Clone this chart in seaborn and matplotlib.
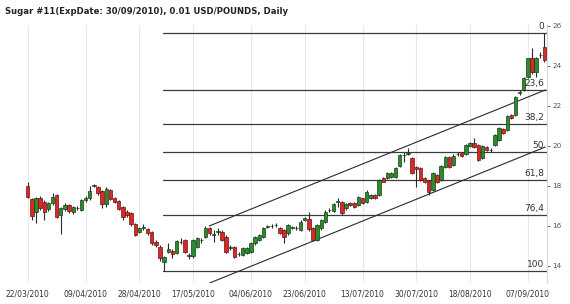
import numpy as np
import pandas as pd
import matplotlib
matplotlib.use("Agg")
import matplotlib.pyplot as plt
import seaborn as sns

# ---------------- data ----------------
title = "Sugar #11(ExpDate: 30/09/2010), 0.01 USD/POUNDS, Daily"
start_date = "2010-03-22"

opens = [18.00, 17.33, 16.72, 17.38, 17.22, 16.83, 17.13, 17.55, 16.55, 16.83,
         17.05, 16.70, 16.92, 16.80, 17.30, 17.38, 18.00, 17.95, 17.77, 17.10,
         17.80, 17.40, 17.25, 16.97, 16.72, 16.65, 16.10, 15.70, 15.90, 15.83,
         15.72, 15.22, 14.97, 14.22, 14.72, 14.77, 14.63, 15.18, 15.30, 14.55,
         14.52, 14.97, 15.28, 15.47, 15.88, 15.55, 15.70, 15.72, 15.47, 14.90,
         14.93, 14.58, 14.55, 14.63, 14.72, 15.13, 15.30, 15.47, 15.95, 15.98,
         16.03, 15.88, 15.80, 15.63, 15.92, 15.88, 15.80, 16.30, 16.35, 15.88,
         15.30, 15.88, 16.22, 16.78, 16.77, 17.20, 17.22, 16.88, 17.17, 17.13,
         17.05, 17.38, 17.22, 17.38, 17.55, 17.55, 18.38, 18.38, 18.47, 18.47,
         19.00, 19.53, 19.62, 19.38, 18.97, 18.88, 18.38, 18.25, 17.80, 18.55,
         18.30, 18.97, 19.43, 19.05, 19.58, 19.63, 19.60, 20.00, 20.13, 20.05,
         19.38, 19.97, 19.78, 20.05, 20.30, 20.83, 20.80, 21.55, 21.55, 22.65,
         22.80, 23.47, 24.38, 23.72, 24.53, 24.97]
highs = [18.22, 17.40, 17.45, 17.50, 17.30, 17.20, 17.67, 17.60, 16.95, 17.15,
         17.10, 17.00, 17.00, 17.35, 17.50, 18.00, 18.12, 18.00, 17.80, 17.95,
         17.85, 17.45, 17.30, 17.00, 16.80, 16.70, 16.15, 15.95, 16.08, 15.88,
         15.75, 15.28, 15.05, 14.50, 15.13, 14.85, 15.30, 15.40, 15.35, 14.65,
         15.35, 15.45, 15.40, 16.00, 15.93, 15.80, 15.90, 15.78, 15.55, 15.05,
         15.00, 14.70, 14.95, 14.95, 15.20, 15.52, 15.60, 15.95, 16.05, 16.08,
         16.17, 15.95, 15.85, 16.10, 16.00, 15.98, 16.28, 16.45, 16.72, 15.95,
         16.10, 16.35, 16.78, 16.90, 17.15, 17.38, 17.27, 17.15, 17.22, 17.18,
         17.48, 17.42, 17.78, 17.60, 17.60, 18.35, 18.47, 18.68, 18.72, 18.93,
         19.60, 19.72, 19.88, 19.45, 19.02, 18.93, 18.43, 18.30, 18.68, 18.60,
         19.05, 19.48, 19.50, 19.58, 19.70, 19.68, 20.10, 20.18, 20.38, 20.10,
         20.05, 20.02, 19.90, 20.60, 20.93, 20.88, 21.55, 21.60, 22.52, 22.80,
         23.45, 24.42, 24.88, 24.45, 24.70, 25.63]
lows = [17.40, 16.30, 16.13, 16.80, 16.30, 16.75, 17.05, 16.40, 15.60, 16.75,
        16.65, 16.62, 16.80, 16.75, 17.20, 17.30, 17.95, 17.55, 16.90, 16.95,
        17.30, 17.15, 16.80, 16.30, 16.45, 16.00, 15.50, 15.65, 15.80, 15.55,
        15.05, 14.95, 14.25, 13.73, 14.65, 14.38, 14.58, 15.10, 14.65, 14.35,
        14.40, 14.90, 15.15, 15.40, 15.55, 15.20, 15.55, 15.25, 14.65, 14.80,
        14.38, 14.50, 14.48, 14.58, 14.65, 15.05, 15.25, 15.40, 15.90, 15.90,
        15.95, 15.58, 15.13, 15.55, 15.85, 15.82, 15.75, 16.25, 15.75, 15.25,
        15.25, 15.80, 16.15, 16.70, 16.70, 16.97, 16.55, 16.80, 17.00, 16.92,
        17.00, 17.12, 17.15, 17.33, 17.33, 17.50, 18.18, 18.33, 18.42, 18.42,
        18.95, 19.22, 19.55, 18.58, 17.97, 18.25, 18.17, 17.55, 17.75, 18.17,
        18.25, 18.92, 18.92, 19.00, 19.50, 19.45, 19.55, 19.95, 19.88, 19.25,
        19.33, 19.75, 19.70, 20.00, 20.25, 20.58, 20.75, 21.33, 21.50, 22.55,
        22.75, 23.40, 23.60, 23.47, 24.40, 24.20]
closes = [17.47, 16.50, 17.38, 16.88, 16.72, 17.13, 17.43, 16.47, 16.88, 17.05,
          16.75, 16.95, 16.88, 17.30, 17.40, 17.77, 18.04, 17.65, 17.10, 17.85,
          17.35, 17.20, 16.85, 16.47, 16.55, 16.10, 15.55, 15.88, 15.92, 15.63,
          15.15, 15.05, 14.38, 14.45, 14.83, 14.60, 15.25, 15.22, 14.72, 14.50,
          15.30, 15.38, 15.32, 15.88, 15.63, 15.57, 15.73, 15.30, 14.72, 14.95,
          14.43, 14.62, 14.88, 14.88, 15.13, 15.47, 15.55, 15.88, 15.98, 16.00,
          16.05, 15.63, 15.47, 16.05, 15.95, 15.90, 16.22, 16.38, 15.83, 15.30,
          16.05, 16.30, 16.72, 16.80, 17.10, 17.23, 16.63, 17.10, 17.05, 16.97,
          17.43, 17.17, 17.72, 17.55, 17.38, 18.30, 18.22, 18.63, 18.67, 18.88,
          19.55, 19.57, 19.65, 18.63, 18.83, 18.30, 18.22, 17.72, 18.63, 18.22,
          19.00, 19.43, 18.97, 19.50, 19.60, 19.50, 20.05, 20.13, 19.93, 19.30,
          20.00, 19.80, 19.82, 20.55, 20.88, 20.63, 21.50, 21.38, 22.47, 22.70,
          23.38, 24.38, 23.72, 24.38, 24.57, 24.30]

tick_dates = ["22/03/2010", "09/04/2010", "28/04/2010", "17/05/2010", "04/06/2010",
              "23/06/2010", "13/07/2010", "30/07/2010", "18/08/2010", "07/09/2010"]
fib_levels = [0, 23.6, 38.2, 50, 61.8, 76.4, 100]
channel_start = 43.9
channel_end = 125.2
channel_upper = [16.0, 22.8]
channel_lower = [13.14, 19.95]
y_ticks = [14, 16, 18, 20, 22, 24, 26]

# ---------------- figure ----------------
sns.set_theme(style="white")
plt.rcParams["font.family"] = ["DejaVu Sans"]

fig = plt.figure(figsize=(5.70, 3.04), dpi=100)
ax = fig.add_axes([5 / 570, 21 / 304, 541.5 / 570, 258 / 304])

o = np.array(opens); h = np.array(highs); l = np.array(lows); c = np.array(closes)
n = len(o)
dates = pd.bdate_range(start_date, periods=n)
x = np.arange(n)
df = pd.DataFrame({"x": x, "open": o, "high": h, "low": l, "close": c})

up = c >= o
body_col = np.where(up, "#2d8a2d", "#d62a2a")
edge_col = np.where(up, "#163f16", "#6e1010")

# vertical grid at labelled dates
tick_pos = [dates.get_loc(pd.to_datetime(d, format="%d/%m/%Y")) for d in tick_dates]
for tp in tick_pos:
    ax.axvline(tp, color="#e8e8e8", lw=0.8, zorder=0)

# fib levels
hi = h.max(); lo = l.min(); lo_idx = int(np.argmin(l))
xmax = n - 0.5
for lev in fib_levels:
    val = hi - (hi - lo) * lev / 100.0
    ax.plot([lo_idx - 0.3, xmax], [val, val], color="#3c3c3c", lw=0.9, zorder=1)
    lab = (f"{lev:g}").replace(".", ",")
    ax.text(xmax - 0.6, val + 0.1, lab, ha="right", va="bottom",
            fontsize=6.5, color="#333333", zorder=5)

# channel lines
ax.plot([channel_start, channel_end], channel_upper, color="#2a2a2a", lw=0.8, zorder=2)
ax.plot([channel_start, channel_end], channel_lower, color="#2a2a2a", lw=0.8, zorder=2)

# candles
ax.vlines(df["x"], df["low"], df["high"], color="#2a2a2a", lw=0.8, zorder=3)
heights = np.maximum(np.abs(c - o), 0.03)
ax.bar(x, heights, bottom=np.minimum(o, c), width=0.82, color=body_col,
       edgecolor=edge_col, linewidth=0.5, zorder=4)

ax.set_xlim(-5.5, xmax)
ax.set_ylim(13.15, 26.05)
ax.set_xticks(tick_pos)
ax.set_xticklabels(tick_dates)
ax.set_yticks(y_ticks)
ax.set_yticklabels([str(v) for v in y_ticks])
ax.yaxis.tick_right()
ax.tick_params(axis="x", length=0, pad=5, labelsize=5.5, colors="#333333")
ax.tick_params(axis="y", length=2, pad=2, width=0.6, labelsize=5.2,
               colors="#555555", right=True, left=False)
for s in ["left", "top", "bottom"]:
    ax.spines[s].set_visible(False)
ax.spines["right"].set_color("#d8d8d8")
ax.spines["right"].set_linewidth(0.8)
ax.grid(False)

fig.text(5 / 570, 1 - 12 / 304, title, fontsize=6.1, fontweight="bold",
         color="#222222", ha="left", va="center")

fig.savefig("out.png", dpi=100)
